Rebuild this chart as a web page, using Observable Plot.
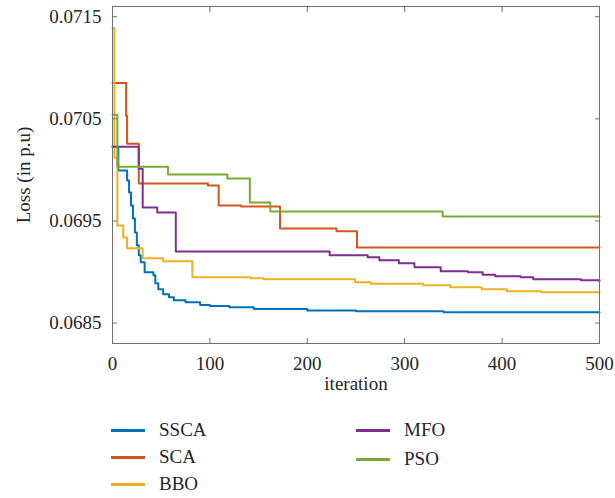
<!DOCTYPE html>
<html><head><meta charset="utf-8">
<script src="https://cdn.jsdelivr.net/npm/d3@7"></script>
<script src="https://cdn.jsdelivr.net/npm/@observablehq/plot@0.6"></script>
<style>
body{margin:0;background:#fff;font-family:"Liberation Serif","Times New Roman",Times,"DejaVu Serif",serif;}
#legend{position:relative;width:615px;height:98px;font-size:19px;color:#262626}
.item{position:absolute;display:flex;align-items:center;height:24px;white-space:nowrap}
.sw{width:34px;height:0;border-top:3px solid;margin-right:14px}
svg text{font-family:"Liberation Serif","Times New Roman",Times,"DejaVu Serif",serif !important;}
</style></head><body><div id="chart"></div><div id="legend"></div>
<script>
const names = ["SSCA","SCA","BBO","MFO","PSO"];
const colors = ["#0072BD","#D95319","#EDB120","#7E2F8E","#77AC30"];
const xTicks = [0,100,200,300,400,500];
const yTicks = [0.0685,0.0695,0.0705,0.0715];

const ssca_iter = [0,6,15,17,19,21,23,25,27,29,33,42,44,47,52,58,63,75,90,100,120,145,200,250,340,500];
const ssca_loss = [0.070227,0.069993,0.069895,0.069778,0.069651,0.069524,0.069388,0.069261,0.069163,0.069095,0.068998,0.068968,0.068890,0.068832,0.068783,0.068754,0.068724,0.068705,0.068676,0.068666,0.068656,0.068637,0.068622,0.068617,0.068607,0.068602];

const sca_iter = [0,14,15,27,98,109,132,172,230,251,500];
const sca_loss = [0.070851,0.070529,0.070256,0.069866,0.069846,0.069651,0.069641,0.069427,0.069398,0.069241,0.069241];

const bbo_iter = [0,2,5,11,15,31,52,82,142,155,249,265,319,347,379,405,440,500];
const bbo_loss = [0.071388,0.070120,0.069456,0.069339,0.069232,0.069134,0.069105,0.068949,0.068939,0.068929,0.068900,0.068885,0.068871,0.068851,0.068832,0.068812,0.068802,0.068802];

const mfo_iter = [0,27,31,46,65,223,262,274,294,310,337,365,380,393,419,432,481,500];
const mfo_loss = [0.070227,0.070012,0.069632,0.069583,0.069202,0.069163,0.069144,0.069115,0.069085,0.069046,0.069007,0.068998,0.068973,0.068959,0.068949,0.068929,0.068920,0.068910];

const pso_iter = [0,5,57,118,141,162,339,500];
const pso_loss = [0.070539,0.070032,0.069954,0.069915,0.069680,0.069593,0.069544,0.069544];

const series = [[ssca_iter,ssca_loss],[sca_iter,sca_loss],[bbo_iter,bbo_loss],[mfo_iter,mfo_loss],[pso_iter,pso_loss]];
const rows = [];
series.forEach(([it,ls],k)=>it.forEach((v,i)=>rows.push({algo:names[k],iter:v,loss:ls[i]})));

const blank = () => "";
const chart = Plot.plot({
  width:615, height:400,
  marginLeft:112, marginRight:16, marginTop:6, marginBottom:57,
  style:{fontFamily:"'Liberation Serif', 'Times New Roman', serif", fontSize:"19px", color:"#262626", background:"white"},
  x:{domain:[0,500]},
  y:{domain:[0.0683,0.0716]},
  color:{domain:names, range:colors},
  marks:[
    Plot.line(rows,{x:"iter", y:"loss", z:"algo", stroke:"algo", curve:"step-after", strokeWidth:2}),
    Plot.frame({stroke:"#707070"}),
    Plot.axisX({ticks:xTicks, tickSize:0, tickPadding:13, label:"iteration", labelAnchor:"center", labelArrow:"none", labelOffset:46}),
    Plot.axisX({ticks:xTicks, tickSize:-5, tickFormat:blank, label:null, stroke:"#707070"}),
    Plot.axisX({anchor:"top", ticks:xTicks, tickSize:-5, tickFormat:blank, label:null, stroke:"#707070"}),
    Plot.axisY({ticks:yTicks, tickSize:0, tickPadding:11, tickFormat:d3.format(".4f"), label:"Loss (in p.u)", labelAnchor:"center", labelArrow:"none", labelOffset:96}),
    Plot.axisY({ticks:yTicks, tickSize:-5, tickFormat:blank, label:null, stroke:"#707070"}),
    Plot.axisY({anchor:"right", ticks:yTicks, tickSize:-5, tickFormat:blank, label:null, stroke:"#707070"})
  ]
});
document.getElementById("chart").appendChild(chart);

const legendPos = [[111,18],[111,45],[111,72],[356,18],[356,47]];
const leg = document.getElementById("legend");
names.forEach((n,i)=>{
  const d = document.createElement("div");
  d.className = "item";
  d.style.left = legendPos[i][0]+"px";
  d.style.top = legendPos[i][1]+"px";
  d.innerHTML = `<span class="sw" style="border-color:${colors[i]}"></span><span>${n}</span>`;
  leg.appendChild(d);
});
</script></body></html>
